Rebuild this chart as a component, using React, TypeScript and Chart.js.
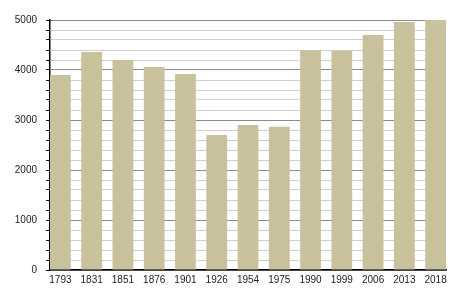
import React, { useEffect, useRef } from "react";
import { Chart, registerables } from "chart.js";

Chart.register(...registerables);

const years = ["1793", "1831", "1851", "1876", "1901", "1926", "1954", "1975", "1990", "1999", "2006", "2013", "2018"];
const population = [3900, 4360, 4200, 4060, 3920, 2700, 2900, 2867, 4400, 4387, 4700, 4960, 5000];
const yMax = 5000;
const yStep = 200;
const majorStep = 1000;
const barFrac = 0.664;

export default function App() {
  const ref = useRef<HTMLCanvasElement>(null);
  useEffect(() => {
    if (!ref.current) return;
    const points = population.map((v, i) => ({ x: i, y: v }));
    const font = { family: "'Liberation Sans', Arial, sans-serif", size: 10 };
    const chart = new Chart(ref.current, {
      type: "bar",
      data: {
        datasets: [
          {
            data: points as any,
            backgroundColor: "#c9c09c",
            borderWidth: 0,
            categoryPercentage: 1,
            barPercentage: barFrac,
          },
        ],
      },
      options: {
        animation: false,
        responsive: false,
        maintainAspectRatio: false,
        layout: { padding: { top: 20, right: 9, left: 0, bottom: 0 } },
        plugins: { legend: { display: false }, tooltip: { enabled: false } },
        scales: {
          x: {
            type: "linear",
            min: -barFrac / 2,
            max: years.length - 1 + barFrac / 2,
            offset: false,
            grid: { display: false, drawTicks: false },
            border: { display: true, color: "#000", width: 1.5 },
            afterBuildTicks: (s: any) => {
              s.ticks = years.map((_, i) => ({ value: i }));
            },
            ticks: {
              color: "#222",
              font,
              padding: 4,
              maxRotation: 0,
              autoSkip: false,
              callback: (v: any) => years[Math.round(Number(v))] ?? "",
            },
            afterFit: (s: any) => {
              s.height = 30;
            },
          },
          y: {
            min: 0,
            max: yMax,
            grid: {
              color: (ctx: any) =>
                ctx.tick && ctx.tick.value % majorStep === 0 ? "#8c8c8c" : "#cfcfcf",
              tickColor: "#000",
              tickLength: 4,
              lineWidth: 1,
            },
            border: { display: true, color: "#000", width: 1.5 },
            ticks: {
              stepSize: yStep,
              autoSkip: false,
              color: "#222",
              font,
              padding: 9,
              callback: (v: any) => (Number(v) % majorStep === 0 ? String(v) : ""),
            },
            afterFit: (s: any) => {
              s.width = 50;
            },
          },
        },
      },
    });
    return () => chart.destroy();
  }, []);
  return (
    <div style={{ position: "fixed", left: 0, top: 0, width: 455, height: 300, background: "#fff" }}>
      <canvas ref={ref} width={455} height={300} style={{ width: 455, height: 300 }} />
    </div>
  );
}
